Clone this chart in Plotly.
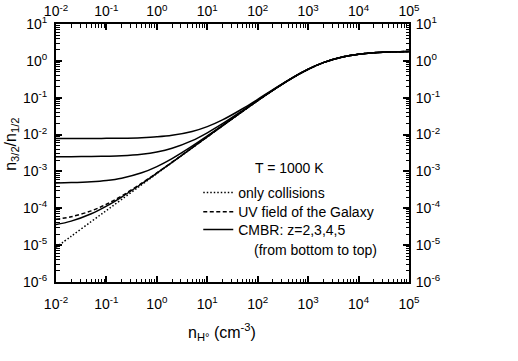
import plotly.graph_objects as go

# hydrogen density grid (cm^-3) and population ratio curves
n_h = [0.01, 0.02, 0.05, 0.1, 0.2, 0.5, 1, 2, 5, 10, 20, 50, 100, 200, 500,
       1000, 2000, 5000, 1e4, 2e4, 5e4, 1e5]

only_coll = [8.7e-6, 1.74e-5, 4.36e-5, 8.71e-5, 1.74e-4, 4.36e-4, 8.71e-4, 1.74e-3,
             4.35e-3, 8.67e-3, 1.726e-2, 4.26e-2, 0.0832, 0.159, 0.352,
             0.590, 0.893, 1.289, 1.512, 1.656, 1.756, 1.792]
uv_galaxy = [5.02e-5, 5.89e-5, 8.51e-5, 1.29e-4, 2.16e-4, 4.78e-4, 9.13e-4, 1.78e-3,
             4.39e-3, 8.71e-3, 1.73e-2, 4.26e-2, 0.0832, 0.159, 0.352,
             0.590, 0.893, 1.289, 1.512, 1.656, 1.756, 1.792]
cmbr_z2 = [3.62e-5, 4.49e-5, 7.11e-5, 1.146e-4, 2.02e-4, 4.63e-4, 8.99e-4, 1.77e-3,
           4.38e-3, 8.70e-3, 1.73e-2, 4.26e-2, 0.0832, 0.159, 0.352,
           0.590, 0.893, 1.289, 1.512, 1.656, 1.756, 1.792]
cmbr_z3 = [4.89e-4, 4.97e-4, 5.24e-4, 5.67e-4, 6.54e-4, 9.16e-4, 1.35e-3, 2.22e-3,
           4.83e-3, 9.15e-3, 1.774e-2, 4.30e-2, 0.0836, 0.1595, 0.3523,
           0.591, 0.893, 1.289, 1.512, 1.656, 1.756, 1.792]
cmbr_z4 = [2.51e-3, 2.52e-3, 2.54e-3, 2.59e-3, 2.67e-3, 2.94e-3, 3.37e-3, 4.24e-3,
           6.84e-3, 1.116e-2, 1.974e-2, 4.50e-2, 0.0856, 0.1614, 0.354,
           0.592, 0.894, 1.289, 1.512, 1.656, 1.756, 1.792]
cmbr_z5 = [7.81e-3, 7.82e-3, 7.84e-3, 7.89e-3, 7.97e-3, 8.24e-3, 8.67e-3, 9.54e-3,
           1.214e-2, 1.643e-2, 2.499e-2, 5.02e-2, 0.0906, 0.1663, 0.358,
           0.595, 0.897, 1.290, 1.513, 1.656, 1.756, 1.792]

x_tickvals = [1e-2, 1e-1, 1e0, 1e1, 1e2, 1e3, 1e4, 1e5]
x_ticktext = ["10<sup>-2</sup>", "10<sup>-1</sup>", "10<sup>0</sup>", "10<sup>1</sup>",
              "10<sup>2</sup>", "10<sup>3</sup>", "10<sup>4</sup>", "10<sup>5</sup>"]
y_tickvals = [1e-6, 1e-5, 1e-4, 1e-3, 1e-2, 1e-1, 1e0, 1e1]
y_ticktext = ["10<sup>-6</sup>", "10<sup>-5</sup>", "10<sup>-4</sup>", "10<sup>-3</sup>",
              "10<sup>-2</sup>", "10<sup>-1</sup>", "10<sup>0</sup>", "10<sup>1</sup>"]

x_minor = [m * d for d in x_tickvals[:-1] for m in range(2, 10)]
y_minor = [m * d for d in y_tickvals[:-1] for m in range(2, 10)]

FONT = "Arial, Liberation Sans, sans-serif"
LINE = dict(color="black", width=1.5, shape="spline")

fig = go.Figure()

fig.add_trace(go.Scatter(x=n_h, y=only_coll, mode="lines", name="only collisions",
                         line=dict(LINE, dash="1.5px,2px"), legend="legend"))
fig.add_trace(go.Scatter(x=n_h, y=uv_galaxy, mode="lines", name="UV field of the Galaxy",
                         line=dict(LINE, dash="4px,2.5px"), legend="legend2"))
for i, ys in enumerate([cmbr_z2, cmbr_z3, cmbr_z4, cmbr_z5]):
    fig.add_trace(go.Scatter(x=n_h, y=ys, mode="lines", name="CMBR: z=2,3,4,5",
                             showlegend=(i == 0), line=LINE, legend="legend3"))

# invisible trace to drive the mirrored top / right axes
fig.add_trace(go.Scatter(x=[1e-2, 1e5], y=[1e-6, 1e1], xaxis="x2", yaxis="y2",
                         mode="none", showlegend=False, hoverinfo="skip"))


def log_axis(rng, vals, text, minor_vals, standoff):
    return dict(type="log", range=rng, tickmode="array", tickvals=vals, ticktext=text,
                showgrid=False, zeroline=False, showline=True, automargin=False,
                linecolor="black", linewidth=2, ticks="inside", ticklen=6,
                tickwidth=1.5, tickcolor="black", ticklabelstandoff=standoff,
                tickfont=dict(family=FONT, size=14, color="black"),
                minor=dict(ticks="inside", ticklen=3.5, tickwidth=1.2, tickcolor="black",
                           tickmode="array", tickvals=minor_vals, showgrid=False))


leg = dict(xanchor="left", yanchor="middle", bgcolor="rgba(0,0,0,0)", borderwidth=0,
           font=dict(family=FONT, size=14), itemwidth=30)

fig.update_layout(
    width=518, height=361,
    margin=dict(l=56, r=109, t=24, b=79),
    plot_bgcolor="white", paper_bgcolor="white",
    font=dict(family=FONT, size=14, color="black"),
    xaxis=log_axis([-2, 5], x_tickvals, x_ticktext, x_minor, 8),
    yaxis=log_axis([-6, 1], y_tickvals, y_ticktext, y_minor, 4),
    xaxis2=dict(log_axis([-2, 5], x_tickvals, x_ticktext, x_minor, 0),
                overlaying="x", side="top", anchor="y2"),
    yaxis2=dict(log_axis([-6, 1], y_tickvals, y_ticktext, y_minor, 2),
                overlaying="y", side="right", anchor="x2"),
    legend=dict(leg, x=0.403, y=0.345),
    legend2=dict(leg, x=0.403, y=0.271),
    legend3=dict(leg, x=0.403, y=0.2016),
    showlegend=True,
)

fig.add_annotation(text="T = 1000 K", x=0.662, y=0.442, xref="paper", yref="paper",
                   showarrow=False, xanchor="center", yanchor="middle",
                   font=dict(family=FONT, size=14))
fig.add_annotation(text="(from bottom to top)", x=0.555, y=0.124, xref="paper", yref="paper",
                   showarrow=False, xanchor="left", yanchor="middle",
                   font=dict(family=FONT, size=14))
fig.add_annotation(text="n<sub>H°</sub> (cm<sup>-3</sup>)", x=0.47, y=-0.194,
                   xref="paper", yref="paper", showarrow=False,
                   xanchor="center", yanchor="middle", font=dict(family=FONT, size=16))
fig.add_annotation(text="n<sub>3/2</sub>/n<sub>1/2</sub>", x=-0.125, y=0.535,
                   xref="paper", yref="paper", showarrow=False, textangle=-90,
                   xanchor="center", yanchor="middle", font=dict(family=FONT, size=16))

# drop the default page margin so the figure sits at the window's top-left corner
fig.write_html("out.html", config={"displayModeBar": False},
               post_script="document.body.style.margin = '0px';")
